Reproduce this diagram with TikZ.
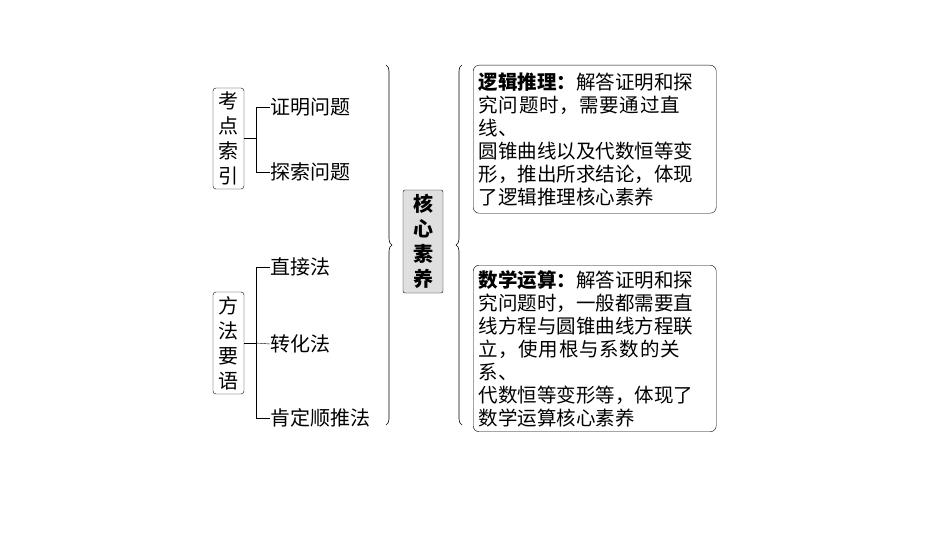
\documentclass[tikz,border=0pt]{standalone}
\usepackage{fontspec}
\setmainfont{Noto Sans CJK SC}
\XeTeXlinebreaklocale "zh"
\XeTeXlinebreakskip=0pt plus 1pt
\usetikzlibrary{positioning,decorations.pathreplacing}
\tikzset{
  vbox/.style={draw,rounded corners=3pt,align=center,inner sep=3pt,minimum width=31pt,font=\fontsize{20}{25}\selectfont},
  item/.style={anchor=west,inner sep=0pt,font=\fontsize{20}{24}\selectfont},
  textbox/.style={draw,rounded corners=6pt,minimum width=243pt,align=left,text width=232pt,inner sep=5pt,font=\fontsize{19.5}{23}\selectfont},
  brc/.style={decorate,decoration={brace,amplitude=6pt},line width=0.6pt}
}
\begin{document}
\begin{tikzpicture}[x=1pt,y=-1pt]
   \useasboundingbox (0,0) rectangle (950,535);
   \node[vbox,minimum height=101pt] (kd) at (228.5,138.5) {考\\点\\索\\引};
   \node[vbox,minimum height=102pt] (ff) at (228.5,343) {方\\法\\要\\语};
   \node[item] (i1) at (270,107) {证明问题};
   \node[item] (i2) at (270,172) {探索问题};
   \node[item] (i3) at (270,267) {直接法};
   \node[item] (i4) at (270,344) {转化法};
   \node[item] (i5) at (270,418) {肯定顺推法};
   \draw (kd.east) -- ++(12,0) coordinate (j1);
   \draw (i1.west) -| (j1) |- (i2.west);
   \draw (ff.east) -- ++(12,0) coordinate (j2);
   \draw (i3.west) -| (j2) |- (i5.west);
   \draw (j2) -- (i4.west);
   \node[draw,fill=gray!25,rounded corners=2pt,minimum width=40pt,minimum height=103pt,align=center,
         font=\fontsize{20}{25}\selectfont\bfseries] (hx) at (423,241.5) {核\\心\\素\\养};
   \draw[brc] (386,65) -- (386,425);
   \draw[brc] (462,425) -- (462,65);
   \node[textbox,minimum height=148pt,anchor=north west] (b1) at (473,65)
     {\textbf{逻辑推理：}解答证明和探\\究问题时，需要通过直线、\\圆锥曲线以及代数恒等变\\形，推出所求结论，体现\\了逻辑推理核心素养};
   \node[textbox,minimum height=155pt,anchor=north west] (b2) at (473,265)
     {\textbf{数学运算：}解答证明和探\\究问题时，一般都需要直\\线方程与圆锥曲线方程联\\立，使用根与系数的关系、\\代数恒等变形等，体现了\\数学运算核心素养};
\end{tikzpicture}
\end{document}
